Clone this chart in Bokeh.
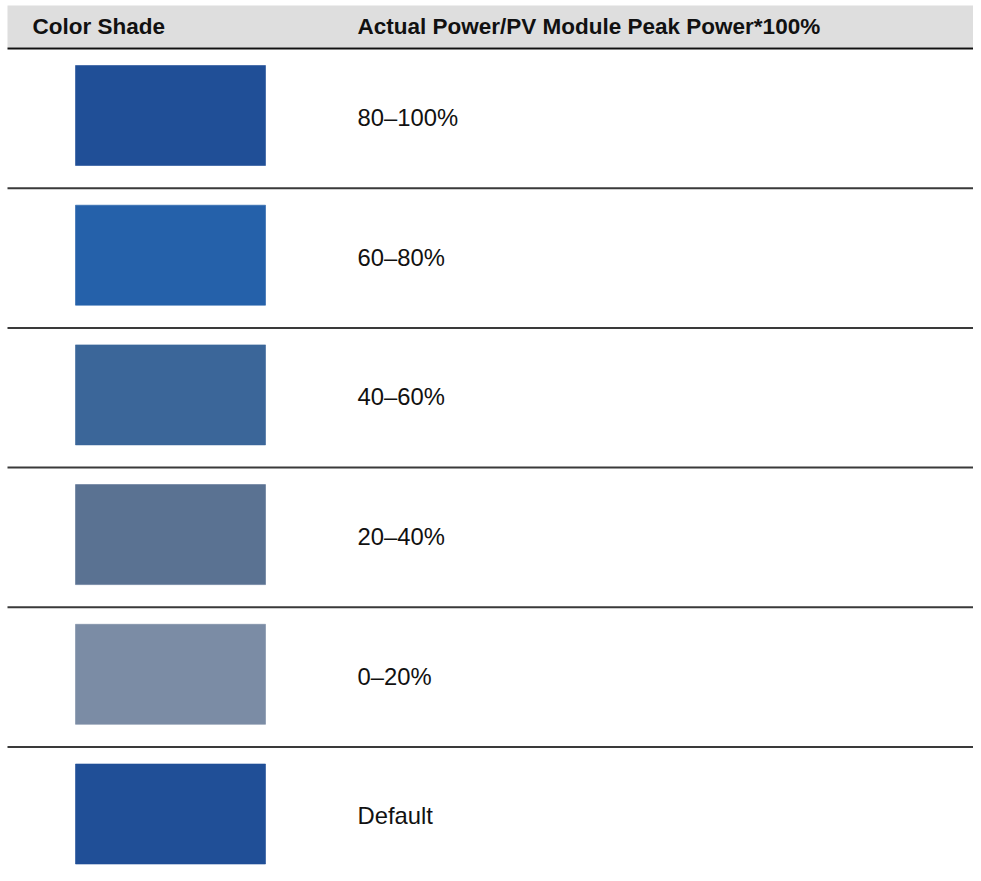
from bokeh.plotting import figure
from bokeh.models import ColumnDataSource
from bokeh.core.properties import value
from bokeh.embed import file_html
from bokeh.resources import INLINE

# Data
header_labels = ["Color Shade", "Actual Power/PV Module Peak Power*100%"]
range_labels = ["80\u2013100%", "60\u201380%", "40\u201360%", "20\u201340%", "0\u201320%", "Default"]
shade_colors = ["#204f97", "#2561aa", "#3b6699", "#5a7292", "#7b8ca5", "#204f97"]

# Layout (pixel coordinates of the page)
W, H = 973, 873
X0, Y0 = 0, 0
header_top, header_bottom = 5, 47
row_top0 = 48
row_h = 139.7
sw_left, sw_right = 75, 265
sw_pad_top, sw_h = 17, 100
text_x = 357

p = figure(width=W, height=H, x_range=(X0, X0 + W), y_range=(Y0 + H, Y0),
           toolbar_location=None, output_backend="svg", min_border=0)
p.axis.visible = False
p.grid.visible = False
p.outline_line_color = None
p.background_fill_color = "white"
p.border_fill_color = "white"

# header band
p.quad(left=[7], right=[X0 + W + 10], top=[header_top], bottom=[header_bottom],
       fill_color="#dedede", line_color=None)
p.text(x=[32, text_x], y=[26, 26], text=header_labels,
       text_font=value("Liberation Sans"), text_font_style="bold",
       text_font_size="22.5px", text_baseline="middle", text_color="#111111")
p.segment(x0=[7], x1=[X0 + W + 10], y0=[48], y1=[48], line_color="#111111", line_width=2)

n = len(range_labels)
tops = [row_top0 + row_h * i + sw_pad_top for i in range(n)]
bottoms = [t + sw_h for t in tops]
centers = [row_top0 + row_h * i + row_h / 2 - 1 for i in range(n)]
src = ColumnDataSource(dict(top=tops, bottom=bottoms, color=shade_colors,
                            label=range_labels, cy=centers,
                            lx=[sw_left] * n, rx=[sw_right] * n, tx=[text_x] * n))
p.quad(left="lx", right="rx", top="top", bottom="bottom", fill_color="color",
       line_color="color", line_alpha=0.6, line_width=1, source=src)
p.text(x="tx", y="cy", text="label", source=src,
       text_font=value("Liberation Sans"), text_font_size="23.8px",
       text_baseline="middle", text_color="#111111")

# separators
sep_y = [row_top0 + row_h * (i + 1) for i in range(n - 1)]
p.segment(x0=[7] * len(sep_y), x1=[X0 + W + 10] * len(sep_y), y0=sep_y, y1=sep_y,
          line_color="#3a3a3a", line_width=2)

open("out.html", "w").write(file_html(p, INLINE))
